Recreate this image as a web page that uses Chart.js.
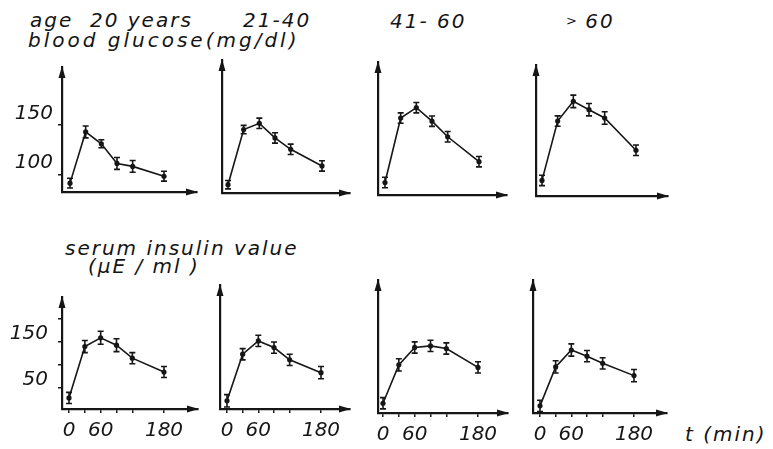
<!DOCTYPE html>
<html>
<head>
<meta charset="utf-8">
<script src="https://cdn.jsdelivr.net/npm/chart.js@4.4.1/dist/chart.umd.min.js"></script>
<style>
    body { margin: 0; background: #fff; width: 773px; height: 449px; position: relative; overflow: hidden; }
    .lbl { position: absolute; font-family: 'DejaVu Sans', sans-serif; font-style: italic; font-size: 20px;
           letter-spacing: 2px; color: #141414; white-space: pre; line-height: 1; }
    .lbl .small { font-size: 13px; vertical-align: 3px; letter-spacing: 0; }
    canvas { position: absolute; }
</style>
</head>
<body>
<script>
// Sampling times (min)
const minutes = [0, 30, 60, 90, 120, 180];
const timeTicks = [0, 30, 60, 90, 120, 180];
const timeLabels = [0, 60, 180];

// Age groups
const ageGroups = ['age  20 years', '21-40', '41- 60', '> 60'];

// Blood glucose (mg/dl), mean and error
const glucoseAge20 = [91, 143, 131, 111, 108, 98];
const glucoseAge21to40 = [90, 143, 149, 135, 124, 108];
const glucoseAge41to60 = [94, 156, 166, 153, 138, 114];
const glucoseOver60 = [97, 154, 173, 165, 157, 126];
const glucoseErrAge20 = [5, 6, 4, 6, 6, 5];
const glucoseErrAge21to40 = [4, 4, 5, 5, 5, 5];
const glucoseErrAge41to60 = [5, 5, 5, 5, 5, 5];
const glucoseErrOver60 = [5, 5, 6, 6, 6, 5];
const glucoseTicks = [100, 150];
const glucoseLabels = [100, 150];

// Serum insulin (µE/ml), mean and error
const insulinAge20 = [29, 140, 159, 143, 115, 85];
const insulinAge21to40 = [21, 112, 138, 125, 101, 76];
const insulinAge41to60 = [24, 99, 133, 136, 131, 94];
const insulinOver60 = [19, 95, 128, 116, 102, 78];
const insulinErrAge20 = [12, 13, 14, 14, 12, 12];
const insulinErrAge21to40 = [12, 11, 11, 11, 11, 12];
const insulinErrAge41to60 = [11, 12, 11, 11, 11, 11];
const insulinErrOver60 = [11, 12, 12, 11, 11, 12];
const insulinTicks = [50, 100, 150, 200];
const insulinLabels = [50, 150];

const ink = '#161616';
const LEFT = 60, BOTTOM = 40, PAD = 10;

// Panel placement: y-axis x (ox), x-axis y (oy), top arrow (ty), right arrow (rx),
// pixel positions of t=0 and t=180
const panels = [
    { row: 0, ox: 62,  oy: 192, ty: 60, rx: 197, x0: 70,  x180: 164, values: glucoseAge20,     errors: glucoseErrAge20,     first: true },
    { row: 0, ox: 222, oy: 193, ty: 60, rx: 350, x0: 228, x180: 322, values: glucoseAge21to40, errors: glucoseErrAge21to40 },
    { row: 0, ox: 378, oy: 195, ty: 62, rx: 507, x0: 385, x180: 479, values: glucoseAge41to60, errors: glucoseErrAge41to60 },
    { row: 0, ox: 536, oy: 196, ty: 65, rx: 668, x0: 542, x180: 636, values: glucoseOver60,    errors: glucoseErrOver60 },
    { row: 1, ox: 62,  oy: 409, ty: 285, rx: 198, x0: 69,  x180: 164, values: insulinAge20,     errors: insulinErrAge20,     first: true },
    { row: 1, ox: 220, oy: 409, ty: 285, rx: 350, x0: 227, x180: 321, values: insulinAge21to40, errors: insulinErrAge21to40 },
    { row: 1, ox: 378, oy: 413, ty: 280, rx: 508, x0: 383, x180: 478, values: insulinAge41to60, errors: insulinErrAge41to60 },
    { row: 1, ox: 533, oy: 413, ty: 280, rx: 667, x0: 540, x180: 634, values: insulinOver60,    errors: insulinErrOver60 }
];

// y scale per row: value at the x-axis and pixels per unit
const rowScale = [
    { base: 82, ppu: 1.04, ticks: glucoseTicks, labels: glucoseLabels, labelPad: 5, labelOffset: -11 },
    { base: 5, ppu: 0.512, ticks: insulinTicks, labels: insulinLabels, labelPad: 10, labelOffset: -8 }
];

// Text placement
const texts = [
    { text: ageGroups[0], left: 30, top: 10 },
    { text: ageGroups[1], left: 243, top: 10 },
    { text: ageGroups[2], left: 390, top: 11 },
    { text: ageGroups[3], left: 566, top: 11, smallFirst: true },
    { text: 'blood glucose(mg/dl)', left: 28, top: 30, spacing: 3 },
    { text: 'serum insulin value', left: 65, top: 238 },
    { text: '(\u00b5E / ml )', left: 88, top: 256 },
    { text: 't (min)', left: 685, top: 424 }
];

texts.forEach(t => {
    const div = document.createElement('div');
    div.className = 'lbl';
    if (t.smallFirst) {
        const s = document.createElement('span');
        s.className = 'small';
        s.textContent = t.text.charAt(0);
        div.appendChild(s);
        div.appendChild(document.createTextNode(t.text.slice(1)));
    } else {
        div.textContent = t.text;
    }
    if (t.spacing) div.style.letterSpacing = t.spacing + 'px';
    div.style.left = t.left + 'px';
    div.style.top = t.top + 'px';
    document.body.appendChild(div);
});

// Draw error bars through the chart scales
const errorBarPlugin = {
    id: 'errorBars',
    afterDatasetsDraw(chart) {
        const ctx = chart.ctx;
        const xs = chart.scales.x, ys = chart.scales.y;
        chart.data.datasets.forEach(ds => {
            ctx.save();
            ctx.strokeStyle = ink;
            ctx.lineWidth = 1.6;
            ds.data.forEach((p, i) => {
                const x = xs.getPixelForValue(p.x);
                const yTop = ys.getPixelForValue(p.y + ds.errors[i]);
                const yBot = ys.getPixelForValue(p.y - ds.errors[i]);
                ctx.beginPath();
                ctx.moveTo(x, yTop); ctx.lineTo(x, yBot);
                ctx.moveTo(x - 3, yTop); ctx.lineTo(x + 3, yTop);
                ctx.moveTo(x - 3, yBot); ctx.lineTo(x + 3, yBot);
                ctx.stroke();
            });
            ctx.restore();
        });
    }
};

// Arrow heads on the axes
const arrowPlugin = {
    id: 'axisArrows',
    afterDraw(chart) {
        const { ctx, chartArea: a } = chart;
        ctx.save();
        ctx.fillStyle = ink;
        ctx.beginPath();
        ctx.moveTo(a.left, a.top - 1);
        ctx.lineTo(a.left - 3.5, a.top + 11);
        ctx.lineTo(a.left + 3.5, a.top + 11);
        ctx.closePath();
        ctx.fill();
        ctx.beginPath();
        ctx.moveTo(a.right + 1, a.bottom);
        ctx.lineTo(a.right - 11, a.bottom - 3.5);
        ctx.lineTo(a.right - 11, a.bottom + 3.5);
        ctx.closePath();
        ctx.fill();
        ctx.restore();
    }
};

const tickFont = { family: "'DejaVu Sans', sans-serif", style: 'italic', size: 20 };

panels.forEach(p => {
    const rs = rowScale[p.row];
    const width = LEFT + (p.rx - p.ox) + PAD;
    const height = PAD + (p.oy - p.ty) + BOTTOM;
    const canvas = document.createElement('canvas');
    canvas.width = width;
    canvas.height = height;
    canvas.style.left = (p.ox - LEFT) + 'px';
    canvas.style.top = (p.ty - PAD) + 'px';
    document.body.appendChild(canvas);

    const ppm = (p.x180 - p.x0) / 180;
    const xMin = -(p.x0 - p.ox) / ppm;
    const xMax = (p.rx - p.x0) / ppm;
    const yMin = rs.base;
    const yMax = rs.base + (p.oy - p.ty) / rs.ppu;
    const showX = p.row === 1;

    new Chart(canvas, {
        type: 'line',
        data: {
            datasets: [{
                data: minutes.map((m, i) => ({ x: m, y: p.values[i] })),
                errors: p.errors,
                borderColor: ink,
                borderWidth: 1.6,
                pointRadius: 2.6,
                pointBackgroundColor: ink,
                pointBorderWidth: 0,
                tension: 0,
                clip: false
            }]
        },
        options: {
            responsive: false,
            animation: false,
            events: [],
            layout: { padding: { top: PAD, right: PAD, left: 0, bottom: 0 } },
            plugins: { legend: { display: false }, tooltip: { enabled: false } },
            scales: {
                x: {
                    type: 'linear',
                    min: xMin,
                    max: xMax,
                    afterFit: s => { s.height = BOTTOM; },
                    afterBuildTicks: s => { s.ticks = timeTicks.map(v => ({ value: v })); },
                    border: { display: true, width: 2.2, color: ink },
                    grid: { display: showX, drawOnChartArea: false, drawTicks: true, tickLength: 4, color: ink, lineWidth: 1.5 },
                    ticks: {
                        display: showX,
                        padding: 6,
                        maxRotation: 0,
                        autoSkip: false,
                        color: ink,
                        font: tickFont,
                        callback: v => timeLabels.includes(v) ? String(v) : ''
                    }
                },
                y: {
                    type: 'linear',
                    min: yMin,
                    max: yMax,
                    afterFit: s => { s.width = LEFT; },
                    afterBuildTicks: s => { s.ticks = rs.ticks.map(v => ({ value: v })); },
                    border: { display: true, width: 2.2, color: ink },
                    grid: { display: !!p.first, drawOnChartArea: false, drawTicks: true, tickLength: 4, color: ink, lineWidth: 1.5 },
                    ticks: {
                        display: !!p.first,
                        padding: rs.labelPad,
                        labelOffset: rs.labelOffset,
                        autoSkip: false,
                        color: ink,
                        font: tickFont,
                        callback: v => rs.labels.includes(v) ? String(v) : ''
                    }
                }
            }
        },
        plugins: [errorBarPlugin, arrowPlugin]
    });
});
</script>
</body>
</html>
